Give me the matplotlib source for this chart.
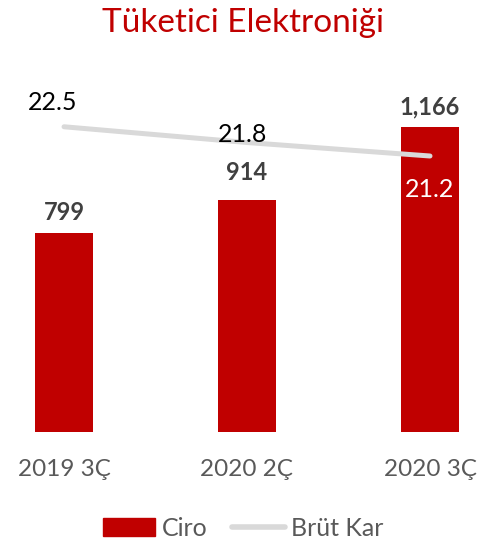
import matplotlib.pyplot as plt
from matplotlib.lines import Line2D
from matplotlib.patches import Patch

plt.rcParams["font.family"] = ["Lato", "DejaVu Sans"]

# 数据
categories = ["2019 3Ç", "2020 2Ç", "2020 3Ç"]
ciro = [799, 914, 1166]
brut_kar = [22.5, 21.8, 21.2]
ciro_labels = ["799", "914", "1,166"]

RED = "#C00000"
GRAY_LINE = "#D9D9D9"

W, H = 486, 543
fig = plt.figure(figsize=(W / 100, H / 100), dpi=100)

# 作图区域 (像素换算成比例)
left, right = 0, W
bottom, top = 432, 100
ax = fig.add_axes([left / W, 1 - bottom / H, (right - left) / W, (bottom - top) / H])
ax2 = ax.twinx()

x = list(range(len(categories)))
ax.bar(x, ciro, width=58 / 183, color=RED, zorder=2)
ax.set_xlim(-0.35, 2.306)
ax.set_ylim(105, 1261)

ax2.plot(x, brut_kar, color=GRAY_LINE, lw=3.6, solid_capstyle="round", zorder=3)
ax2.set_ylim(8.93, 23.69)

for a in (ax, ax2):
    a.axis("off")

# 柱子数值
offsets = [14.5, 19.5, 14.5]
for i, (v, lab) in enumerate(zip(ciro, ciro_labels)):
    ax.annotate(lab, (i, v), xytext=(0, offsets[i]), textcoords="offset points",
                ha="center", va="center", fontsize=17, fontweight="bold",
                color="#404040")

# 折线数值
line_off = [(-8, 17.5), (-3.5, 6), (0, -24)]
line_col = ["#000000", "#000000", "#FFFFFF"]
for i, v in enumerate(brut_kar):
    ax2.annotate(f"{v:.1f}", (i, v), xytext=line_off[i], textcoords="offset points",
                 ha="center", va="center", fontsize=18, color=line_col[i], zorder=5)

# x 轴标签
for i, c in enumerate(categories):
    fig.text((64 + 183 * i) / W, 1 - 470 / H, c, ha="center", va="center",
             fontsize=17.5, color="#595959")

fig.text(0.5, 1 - 23 / H, "Tüketici Elektroniği", ha="center", va="center",
         fontsize=24, color=RED)

handles = [Patch(color=RED, label="Ciro"),
           Line2D([0], [0], color=GRAY_LINE, lw=4, solid_capstyle="round", label="Brüt Kar")]
fig.legend(handles=handles, loc="center", bbox_to_anchor=(0.5, 1 - 528 / H), ncol=2,
           frameon=False, fontsize=18, handlelength=2.1, handletextpad=0.25,
           columnspacing=1.0, labelcolor="#595959")

fig.savefig("out.png", dpi=100)
